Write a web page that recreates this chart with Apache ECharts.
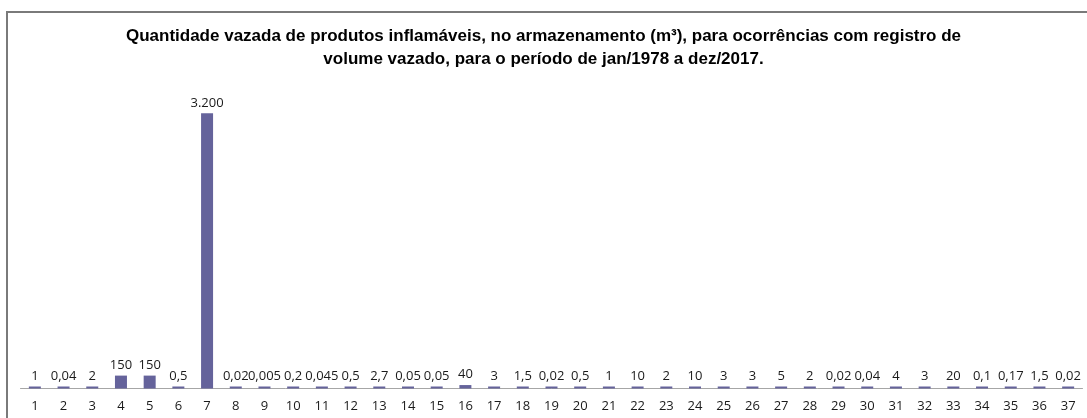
<!DOCTYPE html>
<html lang="pt-BR">
<head>
    <meta charset="UTF-8">
    <script src="https://cdn.jsdelivr.net/npm/echarts@6/dist/echarts.min.js"></script>
    <style>
        html, body { margin: 0; padding: 0; background: #fff; }
    </style>
</head>
<body>
<div id="main" style="width: 1087px;height:418px;"></div>
<script type="text/javascript">
    // ocorrências 1..37
    var categorias = ['1','2','3','4','5','6','7','8','9','10','11','12','13','14','15','16','17','18','19',
        '20','21','22','23','24','25','26','27','28','29','30','31','32','33','34','35','36','37'];
    // volume vazado (m³)
    var volumes = [1, 0.04, 2, 150, 150, 0.5, 3200, 0.02, 0.005, 0.2, 0.045, 0.5, 2.7, 0.05, 0.05, 40,
        3, 1.5, 0.02, 0.5, 1, 10, 2, 10, 3, 3, 5, 2, 0.02, 0.04, 4, 3, 20, 0.1, 0.17, 1.5, 0.02];

    var titulo = 'Quantidade vazada de produtos inflamáveis, no armazenamento (m³), para ocorrências com registro de\nvolume vazado, para o período de jan/1978 a dez/2017.';

    // formato brasileiro: 3.200 / 0,04
    function fmt(v) {
        var partes = String(v).split('.');
        var inteiro = partes[0].replace(/\B(?=(\d{3})+(?!\d))/g, '.');
        return partes.length > 1 ? inteiro + ',' + partes[1] : inteiro;
    }

    var myChart = echarts.init(document.getElementById('main'));

    var option = {
        animation: false,
        title: {
            text: titulo,
            left: 'center',
            top: 20,
            textStyle: {
                fontFamily: 'Liberation Sans, sans-serif',
                fontSize: 17,
                fontWeight: 'bold',
                color: '#000',
                lineHeight: 23
            }
        },
        graphic: [{
            type: 'rect',
            shape: { x: 7, y: 12, width: 1200, height: 600 },
            style: { fill: 'none', stroke: '#7a7a7a', lineWidth: 2 }
        }],
        grid: {
            left: 20.5,
            right: 4.5,
            top: 87.5,
            bottom: 29.5
        },
        xAxis: {
            type: 'category',
            data: categorias,
            axisLine: { lineStyle: { color: '#a6a6a6', width: 1 } },
            axisTick: { show: false },
            axisLabel: {
                interval: 0,
                margin: 11,
                fontFamily: 'Open Sans, sans-serif',
                fontSize: 13,
                color: '#1a1a1a'
            }
        },
        yAxis: {
            type: 'value',
            min: 0,
            max: 3500,
            show: false,
            splitLine: { show: false }
        },
        series: [{
            type: 'bar',
            data: volumes,
            barWidth: 12,
            barMinHeight: 2,
            itemStyle: { color: '#65639b' },
            label: {
                show: true,
                position: 'top',
                distance: 4,
                fontFamily: 'Open Sans, sans-serif',
                fontSize: 13,
                color: '#1a1a1a',
                formatter: function (p) { return fmt(p.value); }
            }
        }]
    };

    myChart.setOption(option);
</script>
</body>
</html>
